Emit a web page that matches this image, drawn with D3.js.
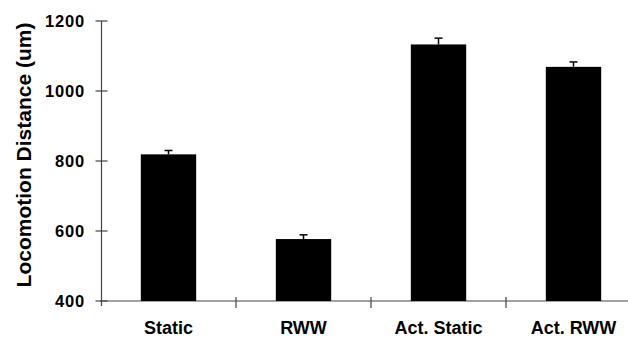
<!DOCTYPE html>
<html><head><meta charset="utf-8">
<script src="https://cdn.jsdelivr.net/npm/d3@7"></script>
<style>body{margin:0;background:#fff}svg{display:block}</style>
</head><body><svg id="c" width="628" height="340"></svg>
<script>
const categories = ["Static", "RWW", "Act. Static", "Act. RWW"];
const values = [819, 577, 1133, 1069];
const errors = [11, 12, 18, 14];
const yTicks = [400, 600, 800, 1000, 1200];
const yLabel = "Locomotion Distance (um)";

const svg = d3.select("#c");
const x = d3.scaleBand().domain(categories).range([101, 641]).paddingInner(0.59).paddingOuter(0.295);
const y = d3.scaleLinear().domain([400, 1200]).range([301, 21]);
const font = "'Liberation Sans', Arial, sans-serif";
const axisColor = "#444";

// x axis line
svg.append("line").attr("x1", 100).attr("x2", 628).attr("y1", y(400)).attr("y2", y(400))
  .attr("stroke", axisColor).attr("stroke-width", 1.2);
// y axis line
svg.append("line").attr("x1", 101.5).attr("x2", 101.5).attr("y1", y(1200)).attr("y2", y(400) + 5)
  .attr("stroke", axisColor).attr("stroke-width", 1.2);

// y ticks + labels
const yg = svg.append("g");
yTicks.forEach(t => {
  yg.append("line").attr("x1", 95.5).attr("x2", 107.5).attr("y1", y(t)).attr("y2", y(t))
    .attr("stroke", axisColor).attr("stroke-width", 1.2);
  yg.append("text").attr("x", 85).attr("y", y(t)).attr("dy", "0.36em").attr("text-anchor", "end")
    .attr("font-family", font).attr("font-weight", "bold").attr("font-size", 16.5)
    .attr("letter-spacing", 0.8).text(t);
});

// x ticks at band boundaries
categories.slice(1).forEach(c => {
  const bx = x(c) - x.step() * x.paddingInner() / 2;
  svg.append("line").attr("x1", bx).attr("x2", bx).attr("y1", y(400) - 4).attr("y2", y(400) + 7)
    .attr("stroke", axisColor).attr("stroke-width", 1.2);
});

// bars
svg.selectAll("rect.bar").data(categories).enter().append("rect")
  .attr("x", d => x(d)).attr("width", x.bandwidth())
  .attr("y", (d, i) => y(values[i])).attr("height", (d, i) => y(400) - y(values[i]))
  .attr("fill", "#000");

// error bars (upper)
categories.forEach((c, i) => {
  const cx = x(c) + x.bandwidth() / 2;
  svg.append("line").attr("x1", cx).attr("x2", cx).attr("y1", y(values[i])).attr("y2", y(values[i] + errors[i]))
    .attr("stroke", "#000").attr("stroke-width", 1.5);
  svg.append("line").attr("x1", cx - 4).attr("x2", cx + 4).attr("y1", y(values[i] + errors[i])).attr("y2", y(values[i] + errors[i]))
    .attr("stroke", "#000").attr("stroke-width", 1.5);
});

// category labels
categories.forEach(c => {
  svg.append("text").attr("x", x(c) + x.bandwidth() / 2).attr("y", 334).attr("text-anchor", "middle")
    .attr("font-family", font).attr("font-weight", "bold").attr("font-size", 18).text(c);
});

// y label
svg.append("text").attr("transform", "translate(31,155) rotate(-90)").attr("text-anchor", "middle")
  .attr("font-family", font).attr("font-weight", "bold").attr("font-size", 21).text(yLabel);
</script></body></html>
